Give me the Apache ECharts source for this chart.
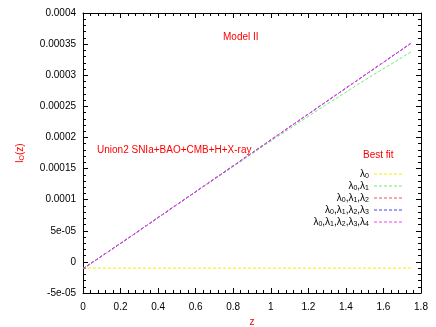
<!DOCTYPE html>
<html>
<head>
<meta charset="utf-8">
<title>Model II</title>
<script src="https://cdn.jsdelivr.net/npm/echarts@6/dist/echarts.min.js"></script>
<style>
  html, body { margin: 0; padding: 0; background: #fff; }
  #chart { width: 436px; height: 327px; }
</style>
</head>
<body>
<div id="chart"></div>
<script>
// z values where the curves were read
var zVals = [0, 0.25, 0.5, 0.75, 1.0, 1.25, 1.5, 1.75];
// best fit curves
var lam0 = [-1.0e-5, -1.0e-5, -1.0e-5, -1.0e-5, -1.0e-5, -1.0e-5, -1.0e-5, -1.0e-5];
var lam01 = [-1.1e-5, 4.0e-5, 9.2e-5, 1.43e-4, 1.94e-4, 2.44e-4, 2.92e-4, 3.38e-4];
var lam012 = [-1.1e-5, 4.0e-5, 9.2e-5, 1.44e-4, 1.96e-4, 2.48e-4, 3.00e-4, 3.52e-4];
var lam0123 = [-1.1e-5, 4.0e-5, 9.2e-5, 1.44e-4, 1.96e-4, 2.48e-4, 3.00e-4, 3.52e-4];
var lam01234 = [-1.1e-5, 4.0e-5, 9.2e-5, 1.44e-4, 1.96e-4, 2.48e-4, 3.00e-4, 3.52e-4];
// tick labels
var yTickLabels = ['-5e-05', '0', '5e-05', '0.0001', '0.00015', '0.0002', '0.00025', '0.0003', '0.00035', '0.0004'];
var seriesNames = ['{a|λ}{s|0}', '{a|λ}{s|0}{a|,λ}{s|1}', '{a|λ}{s|0}{a|,λ}{s|1}{a|,λ}{s|2}',
  '{a|λ}{s|0}{a|,λ}{s|1}{a|,λ}{s|2}{a|,λ}{s|3}', '{a|λ}{s|0}{a|,λ}{s|1}{a|,λ}{s|2}{a|,λ}{s|3}{a|,λ}{s|4}'];
var seriesKeys = ['l0', 'l01', 'l012', 'l0123', 'l01234'];
var seriesColors = ['#f2f200', '#70ee70', '#ff5050', '#4040ff', '#ee44ee'];
var seriesValues = [lam0, lam01, lam012, lam0123, lam01234];

function pairs(vals) {
  var out = [];
  for (var i = 0; i < zVals.length; i++) out.push([zVals[i], vals[i]]);
  return out;
}

var font = 'Liberation Sans, Arial, Helvetica, sans-serif';
// dashed line used as legend key
var dashIcon = 'path://M0,0h3v1h-3zM5,0h3v1h-3zM10,0h3v1h-3zM15,0h3v1h-3zM20,0h3v1h-3zM25,0h3v1h-3z';

var series = [];
for (var i = 0; i < seriesKeys.length; i++) {
  series.push({
    name: seriesKeys[i],
    type: 'line',
    symbol: 'none',
    showSymbol: false,
    data: pairs(seriesValues[i]),
    lineStyle: { color: seriesColors[i], width: 1, type: [3, 2] },
    itemStyle: { color: seriesColors[i] },
    z: 2 + i,
    silent: true
  });
}

var legendData = seriesKeys.map(function (k) { return { name: k, icon: dashIcon }; });

var tickStyle = { show: true, inside: true, length: 5, lineStyle: { color: '#000', width: 1 } };
var minorStyle = { show: true, splitNumber: 5, length: 3, lineStyle: { color: '#000', width: 1 } };
var lineStyleAx = { show: true, onZero: false, lineStyle: { color: '#000', width: 1 } };

var myChart = echarts.init(document.getElementById('chart'), null, { renderer: 'canvas' });
var option = {
  animation: false,
  backgroundColor: '#fff',
  grid: { left: 83, right: 15, top: 13, bottom: 34, containLabel: false, outerBoundsMode: 'none' },
  xAxis: [{
    type: 'value', min: 0, max: 1.8, interval: 0.2,
    axisLine: lineStyleAx, axisTick: tickStyle, minorTick: minorStyle,
    splitLine: { show: false },
    axisLabel: { color: '#000', fontSize: 10, fontFamily: font, margin: 9,
      formatter: function (v) { return String(parseFloat(v.toFixed(1))); } },
    name: 'z', nameLocation: 'middle', nameGap: 23,
    nameTextStyle: { color: '#ff0000', fontSize: 10, fontFamily: font }
  }, {
    type: 'value', position: 'top', min: 0, max: 1.8, interval: 0.2,
    axisLine: lineStyleAx, axisTick: tickStyle, minorTick: minorStyle,
    splitLine: { show: false }, axisLabel: { show: false }
  }],
  yAxis: [{
    type: 'value', min: -5e-5, max: 4e-4, interval: 5e-5,
    axisLine: lineStyleAx, axisTick: tickStyle, minorTick: minorStyle,
    splitLine: { show: false },
    axisLabel: { color: '#000', fontSize: 10, fontFamily: font, margin: 7,
      formatter: function (v, idx) { return yTickLabels[idx]; } },
    name: '{a|l}{s|O}{a|(z)}', nameLocation: 'middle', nameGap: 57, nameRotate: 90,
    nameTextStyle: { color: '#ff0000', fontSize: 10, fontFamily: font,
      rich: { a: { color: '#ff0000', fontSize: 10, fontFamily: font },
              s: { color: '#ff0000', fontSize: 7, fontFamily: font, padding: [5, 0, 0, 0] } } }
  }, {
    type: 'value', position: 'right', min: -5e-5, max: 4e-4, interval: 5e-5,
    axisLine: lineStyleAx, axisTick: tickStyle, minorTick: minorStyle,
    splitLine: { show: false }, axisLabel: { show: false }
  }],
  legend: {
    orient: 'vertical', align: 'right', right: 29, top: 163, padding: 5,
    itemWidth: 28, itemHeight: 1, itemGap: 0,
    data: legendData,
    formatter: function (name) { return seriesNames[seriesKeys.indexOf(name)]; },
    textStyle: {
      color: '#000', fontSize: 10, fontFamily: font, lineHeight: 11.5,
      rich: {
        a: { color: '#000', fontSize: 10, fontFamily: font, lineHeight: 11.5 },
        s: { color: '#000', fontSize: 7, fontFamily: font, lineHeight: 11.5, padding: [5, 0, 0, 0] }
      }
    },
    selectedMode: false
  },
  graphic: [
    { type: 'text', left: 223, top: 32, style: { text: 'Model II', fill: '#ff0000', fontSize: 10, fontFamily: font } },
    { type: 'text', left: 97, top: 145, style: { text: 'Union2 SNIa+BAO+CMB+H+X-ray', fill: '#ff0000', fontSize: 10, fontFamily: font } },
    { type: 'text', left: 363, top: 150, style: { text: 'Best fit', fill: '#ff0000', fontSize: 10, fontFamily: font } }
  ],
  series: series
};
myChart.setOption(option);
</script>
</body>
</html>
